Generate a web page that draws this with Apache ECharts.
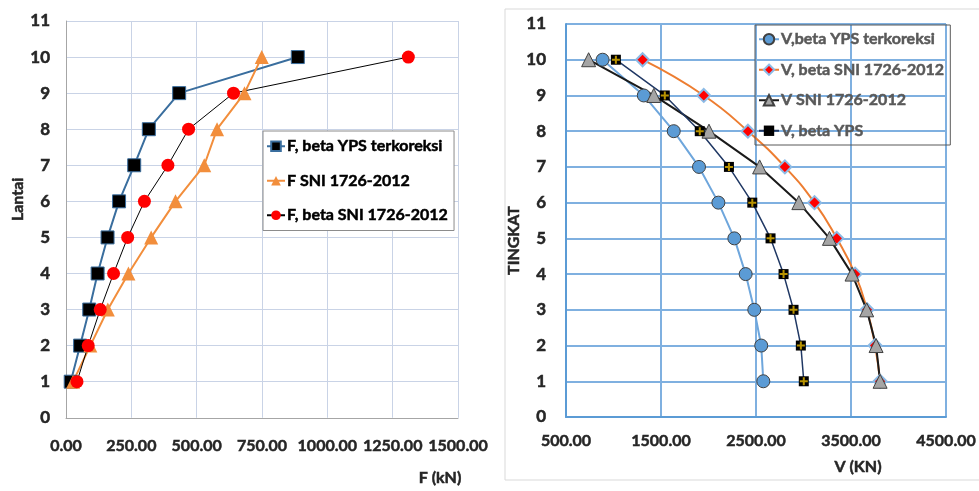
<!DOCTYPE html>
<html>
<head>
<meta charset="utf-8">
<script src="https://cdn.jsdelivr.net/npm/echarts@6/dist/echarts.min.js"></script>
<style>
  html, body { margin: 0; padding: 0; background: #fff; }
  #chart { width: 979px; height: 491px; }
</style>
</head>
<body>
<div id="chart"></div>
<script>
// floors (lantai / tingkat)
var floors = [1, 2, 3, 4, 5, 6, 7, 8, 9, 10];

// left chart, F (kN)
var fBetaYpsKoreksi = [18, 54, 89, 121, 159, 203, 261, 317, 433, 887];
var fSni = [27, 93, 160, 239, 326, 419, 529, 578, 683, 749];
var fBetaSni = [42, 85, 131, 182, 236, 300, 390, 469, 641, 1310];

// right chart, V (KN)
var vBetaYpsKoreksi = [2577, 2555, 2482, 2391, 2272, 2104, 1900, 1634, 1319, 885];
var vBetaSni = [3806, 3753, 3669, 3543, 3350, 3116, 2804, 2415, 1950, 1306];
var vSni = [3806, 3764, 3665, 3511, 3273, 2951, 2538, 2005, 1424, 738];
var vBetaYps = [3003, 2972, 2895, 2790, 2653, 2461, 2215, 1908, 1540, 1025];

function pairs(xs) {
    var out = [];
    for (var i = 0; i < floors.length; i++) {
        out.push([xs[i], floors[i]]);
    }
    return out;
}

var font = 'Lato';
var plusPath = 'path://M3,0H5V3H8V5H5V8H3V5H0V3H3Z';

// bold text, thickened a little with a stroke of its own colour
function boldText(size, color, extra) {
    var s = { fontFamily: font, fontSize: size, fontWeight: 'bold', color: color,
              textBorderColor: color, textBorderWidth: 0.5 };
    for (var k in extra) s[k] = extra[k];
    return s;
}

var chart = echarts.init(document.getElementById('chart'));

var option = {
    animation: false,
    textStyle: { fontFamily: font },
    graphic: [{
        type: 'rect',
        shape: { x: 505, y: 9, width: 480, height: 471 },
        style: { fill: 'none', stroke: '#d9d9d9', lineWidth: 1 },
        z: -1
    }],
    grid: [
        { left: 66, right: 521, top: 21, bottom: 73 },
        { left: 566, right: 32, top: 24, bottom: 74 }
    ],
    legend: [
        {
            orient: 'vertical',
            left: 263, top: 131,
            padding: [7, 6, 7, 3],
            itemGap: 18,
            itemWidth: 18, itemHeight: 12,
            backgroundColor: '#fff',
            borderColor: '#8c8c8c', borderWidth: 1,
            textStyle: boldText(16, '#000', { padding: [0, 0, 0, -3] }),
            data: ['F, beta YPS terkoreksi', 'F SNI 1726-2012', 'F, beta SNI 1726-2012']
        },
        {
            orient: 'vertical',
            left: 755, top: 25,
            padding: [6, 6, 6, 3],
            itemGap: 14,
            itemWidth: 20, itemHeight: 13,
            borderColor: '#595959', borderWidth: 1,
            textStyle: boldText(16, '#595959', { padding: [0, 0, 0, -3] }),
            data: ['V,beta YPS terkoreksi', 'V, beta SNI 1726-2012', 'V SNI 1726-2012', 'V, beta YPS']
        }
    ],
    xAxis: [
        {
            gridIndex: 0, type: 'value', min: 0, max: 1500, interval: 250,
            name: 'F (kN)', nameLocation: 'middle', nameGap: 52,
            nameTextStyle: boldText(16, '#262626', { padding: [0, 0, 0, 356] }),
            axisLine: { show: true, lineStyle: { color: '#a6a6a6' } },
            axisTick: { show: false },
            axisLabel: Object.assign(boldText(16, '#262626', {}), { margin: 20,
                formatter: function (v) { return v.toFixed(2); } }),
            splitLine: { show: true, lineStyle: { color: '#c9d3e6' } }
        },
        {
            gridIndex: 1, type: 'value', min: 500, max: 4500, interval: 1000,
            name: 'V (KN)', nameLocation: 'middle', nameGap: 42,
            nameTextStyle: boldText(16, '#262626', { padding: [0, 0, 0, 204] }),
            axisLine: { show: true, lineStyle: { color: '#5b9bd5', width: 2 } },
            axisTick: { show: false },
            axisLabel: Object.assign(boldText(16, '#262626', {}), { margin: 16,
                formatter: function (v) { return v.toFixed(2); } }),
            splitLine: { show: true, lineStyle: { color: '#7fb0e0', width: 2 } }
        }
    ],
    yAxis: [
        {
            gridIndex: 0, type: 'value', min: 0, max: 11, interval: 1,
            name: 'Lantai', nameLocation: 'middle', nameGap: 40,
            nameTextStyle: boldText(16, '#262626', { padding: [0, 0, 0, 40] }),
            axisLine: { show: true, lineStyle: { color: '#a6a6a6' } },
            axisTick: { show: false },
            axisLabel: Object.assign(boldText(17, '#262626', {}), { margin: 16 }),
            splitLine: { show: true, lineStyle: { color: '#c9d3e6' } }
        },
        {
            gridIndex: 1, type: 'value', min: 0, max: 11, interval: 1,
            name: 'TINGKAT', nameLocation: 'middle', nameGap: 42,
            nameTextStyle: boldText(16, '#262626', { padding: [0, 40, 0, 0] }),
            axisLine: { show: true, lineStyle: { color: '#5b9bd5', width: 2 } },
            axisTick: { show: false },
            axisLabel: Object.assign(boldText(17, '#262626', {}), { margin: 20 }),
            splitLine: { show: true, lineStyle: { color: '#7fb0e0', width: 2 } }
        }
    ],
    series: [
        {
            name: 'F, beta YPS terkoreksi', type: 'line', xAxisIndex: 0, yAxisIndex: 0,
            data: pairs(fBetaYpsKoreksi),
            symbol: 'rect', symbolSize: 13,
            lineStyle: { color: '#3a6e9e', width: 2 },
            itemStyle: { color: '#000', borderColor: '#3a6e9e', borderWidth: 1 }
        },
        {
            name: 'F SNI 1726-2012', type: 'line', xAxisIndex: 0, yAxisIndex: 0,
            data: pairs(fSni),
            symbol: 'triangle', symbolSize: 14,
            lineStyle: { color: '#f28e3c', width: 2 },
            itemStyle: { color: '#f28e3c' }
        },
        {
            name: 'F, beta SNI 1726-2012', type: 'line', xAxisIndex: 0, yAxisIndex: 0,
            data: pairs(fBetaSni),
            symbol: 'circle', symbolSize: 13,
            lineStyle: { color: '#000', width: 1 },
            itemStyle: { color: '#ff0000' }
        },
        {
            name: 'V,beta YPS terkoreksi', type: 'line', xAxisIndex: 1, yAxisIndex: 1,
            data: pairs(vBetaYpsKoreksi),
            symbol: 'circle', symbolSize: 13,
            lineStyle: { color: '#6ea6dc', width: 2 },
            itemStyle: { color: '#5b9bd5', borderColor: '#404040', borderWidth: 1 }
        },
        {
            name: 'V, beta SNI 1726-2012', type: 'line', xAxisIndex: 1, yAxisIndex: 1,
            data: pairs(vBetaSni),
            smooth: true,
            symbol: 'diamond', symbolSize: 13,
            lineStyle: { color: '#ed7d31', width: 2 },
            itemStyle: { color: '#ff0000', borderColor: '#8cbbe6', borderWidth: 2 }
        },
        {
            name: 'V SNI 1726-2012', type: 'line', xAxisIndex: 1, yAxisIndex: 1,
            data: pairs(vSni),
            symbol: 'triangle', symbolSize: 14,
            lineStyle: { color: '#1a1a1a', width: 2 },
            itemStyle: { color: '#a5a5a5', borderColor: '#404040', borderWidth: 1 }
        },
        {
            name: 'V, beta YPS', type: 'line', xAxisIndex: 1, yAxisIndex: 1,
            data: pairs(vBetaYps),
            symbol: 'rect', symbolSize: 10,
            lineStyle: { color: '#203864', width: 1.5 },
            itemStyle: { color: '#000' }
        },
        {
            // yellow cross drawn on top of the black squares
            name: 'V, beta YPS', type: 'scatter', xAxisIndex: 1, yAxisIndex: 1,
            data: pairs(vBetaYps),
            symbol: plusPath, symbolSize: 8,
            itemStyle: { color: '#e6b800' },
            silent: true, z: 5
        }
    ]
};

chart.setOption(option);
window.addEventListener('resize', chart.resize);
</script>
</body>
</html>
